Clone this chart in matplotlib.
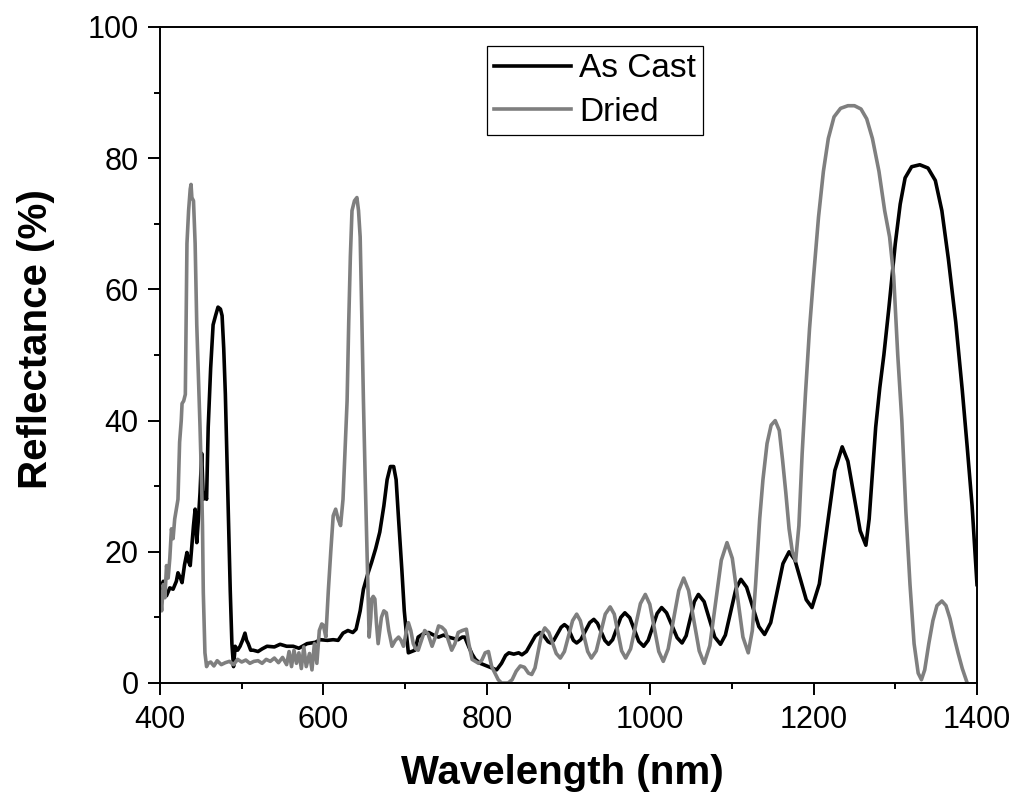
import matplotlib
matplotlib.use("Agg")
import matplotlib.pyplot as plt
from matplotlib.ticker import MultipleLocator

plt.rcParams['font.family'] = ['Liberation Sans', 'DejaVu Sans']

# ---- data ----
as_cast_wl = [400, 404, 408, 412, 416, 420, 422, 425, 427, 430, 433, 435, 437, 439, 441, 443, 445, 447,
              449, 451, 453, 455, 457, 459, 462, 465, 468, 471, 474, 476, 478, 480, 482, 484, 486, 488,
              490, 492, 495, 498, 501, 504, 506, 508, 511, 514, 520, 525, 531, 540, 547, 555, 563, 570,
              580, 590, 596, 605, 612, 618, 624, 630, 636, 640, 645, 649, 654, 659, 664, 669, 674, 678,
              682, 686, 689, 692, 696, 699, 702, 704, 708, 712, 716, 722, 729, 735, 741, 747, 753, 759,
              765, 770, 773, 778, 782, 786, 792, 802, 812, 818, 823, 827, 833, 839, 843,
              848.5, 854, 859.5, 865, 868, 871.5, 875, 878, 882, 886.5, 891, 895, 899, 902.5, 906, 910,
              915, 920.5, 926, 931, 935.5, 940, 944.5, 949, 954, 959, 964, 969, 975, 980.5, 986, 992,
              997.5, 1003, 1008.5, 1014, 1020, 1026.5, 1033, 1039, 1044, 1049, 1054, 1059, 1066, 1072.5,
              1079, 1086, 1092, 1098.5, 1105, 1111, 1118, 1125.5, 1133, 1140, 1147.5, 1155, 1162.5, 1170,
              1177, 1184, 1191, 1198, 1207, 1216.5, 1226, 1235, 1242, 1249.5, 1257, 1264, 1268, 1272,
              1276, 1281, 1286, 1292, 1300, 1306, 1312, 1320, 1330, 1340, 1349, 1357, 1365, 1374, 1382,
              1388, 1394, 1400]
as_cast_R = [14.3, 15.5, 13.3, 14.5, 14.3, 15.5, 16.8, 16.0, 15.3, 18.0, 19.9, 18.5, 17.9, 21.0, 24.0, 26.5,
             21.4, 25.0, 29.0, 35.0, 28.0, 29.0, 28.0, 39.0, 48.0, 54.6, 56.0, 57.3, 57.0, 56.0, 51.0, 44.0,
             34.0, 24.0, 14.0, 6.0, 2.5, 5.6, 5.0, 5.6, 6.5, 7.6, 6.5, 6.0, 5.0, 5.0, 4.8, 5.2, 5.6, 5.5,
             5.9, 5.6, 5.6, 5.3, 6.0, 6.2, 6.6, 6.5, 6.6, 6.5, 7.6, 8.0, 7.7, 8.2, 11.0, 14.3, 16.5, 18.4,
             20.5, 23.0, 27.0, 31.0, 33.0, 33.0, 31.0, 25.0, 17.3, 11.0, 7.0, 4.6, 4.8, 5.0, 7.0, 7.5, 7.7,
             7.3, 7.0, 7.3, 7.0, 6.8, 6.6, 7.0, 7.0, 5.5, 4.4, 3.6, 3.0, 2.5, 2.0, 3.0, 4.2, 4.6, 4.4, 4.6,
             4.3, 4.8, 6.0, 7.2, 7.7, 7.5, 6.9, 6.3, 6.1, 6.5, 7.5, 8.5, 8.9, 8.5, 7.5, 6.5, 6.1, 6.6, 7.9,
             9.2, 9.7, 9.1, 7.8, 6.5, 5.9, 6.6, 8.3, 10.0, 10.7, 9.95, 8.15, 6.35, 5.6, 6.5, 8.55, 10.6,
             11.5, 10.7, 8.8, 6.9, 6.1, 7.2, 9.8, 12.4, 13.5, 12.4, 9.7, 7.0, 5.9, 7.3, 10.85, 14.4, 15.8,
             14.6, 11.6, 8.6, 7.4, 9.2, 13.7, 18.2, 20.0, 18.8, 15.75, 12.7, 11.5, 15.1, 23.75, 32.4, 36.0,
             33.8, 28.5, 23.2, 21.0, 25.0, 32.0, 39.0, 45.0, 50.0, 57.0, 67.0, 73.0, 77.0, 78.7, 79.0, 78.5,
             76.6, 72.0, 64.6, 55.0, 44.6, 36.0, 27.0, 15.0]

dried_wl = [400, 402, 404, 406, 408, 410, 412, 414, 416, 418, 420, 422, 424, 426, 427, 429, 431, 432, 433,
            435, 437, 438, 439, 441, 443, 445, 447, 449, 451, 452, 453, 455, 457, 459, 462, 466, 470, 475,
            480, 485, 490, 495, 500, 505, 510, 515, 520, 525, 530, 535, 540, 545, 550, 555, 558, 561, 564,
            567, 570, 573, 576, 579, 583, 586, 589, 592, 595, 598, 600, 603, 606, 609, 612, 615, 618, 621,
            624, 626, 629, 631, 633, 635, 638, 641, 643, 645, 647, 649, 651, 653, 655, 656, 658, 659, 661,
            663, 665, 667, 669, 671, 674, 677, 680, 684, 688, 692, 695, 698, 701, 704, 707, 710, 713, 716,
            720, 724, 728, 733, 737, 741, 745, 749, 753, 757, 761, 765, 770, 775, 778, 782, 786, 790, 794,
            798, 802, 806, 810, 814, 818, 822, 826, 831, 836, 841, 846, 851, 855,
            859, 863, 867, 871, 876, 880.5, 885, 890, 895, 900, 905, 910, 914.5, 919, 923.5, 928, 934,
            939.5, 945, 951, 956, 960.5, 965, 970, 976, 982, 988, 994, 999.5, 1005, 1010.5, 1016, 1022,
            1028.5, 1035, 1041, 1047, 1053.5, 1060, 1066, 1073, 1080, 1087, 1094, 1100.5, 1107, 1113.5,
            1120, 1125, 1129, 1134, 1138, 1143, 1148, 1153, 1158, 1162, 1166, 1170, 1174, 1178, 1182, 1186,
            1190, 1195, 1200, 1206, 1212, 1218, 1225, 1233, 1242, 1250, 1258, 1265, 1272, 1280, 1287, 1293,
            1298, 1303, 1308, 1313, 1318, 1323, 1328, 1332, 1336, 1341, 1346, 1351, 1357, 1362, 1367, 1372,
            1377, 1382, 1388]
dried_R = [13.8, 11.0, 15.0, 13.0, 17.9, 16.0, 19.0, 23.5, 22.0, 25.0, 26.5, 28.0, 36.7, 40.0, 42.6, 43.0,
           44.0, 55.0, 67.0, 72.0, 75.3, 76.0, 74.0, 73.5, 67.0, 54.6, 47.0, 39.0, 30.0, 24.0, 13.8, 4.6,
           2.5, 3.0, 3.2, 2.6, 3.4, 2.8, 3.1, 3.3, 2.8, 3.6, 3.2, 3.5, 3.0, 3.3, 3.4, 3.0, 3.6, 3.3, 3.8,
           3.1, 3.9, 2.8, 4.8, 2.5, 5.0, 3.0, 4.6, 2.2, 5.5, 2.5, 4.5, 2.0, 6.0, 3.0, 8.0, 9.0, 8.8, 7.0,
           14.0, 20.0, 25.5, 26.5, 25.0, 24.0, 28.0, 34.0, 43.0, 55.0, 65.0, 72.0, 73.5, 74.0, 72.0, 68.0,
           56.0, 43.0, 32.0, 22.0, 12.0, 7.0, 10.0, 12.8, 13.2, 12.8, 9.0, 6.0, 8.0, 10.0, 11.0, 10.7, 8.0,
           5.6, 6.5, 7.0, 6.5, 5.6, 7.5, 9.2, 8.0, 6.0, 5.2, 5.0, 6.5, 8.0, 7.5, 5.6, 7.0, 8.7, 8.5, 8.0,
           6.5, 5.0, 6.0, 7.7, 8.0, 8.2, 6.0, 3.6, 3.3, 3.0, 3.5, 4.6, 4.8, 2.5, 1.5, 0.5, 0.0, 0.0, 0.0,
           0.5, 1.8, 2.6, 2.4, 1.5, 1.3,
           2.3, 4.85, 7.4, 8.4, 7.7, 6.1, 4.5, 3.8, 4.8, 7.15, 9.5, 10.5, 9.5, 7.15, 4.8, 3.8, 4.9, 7.7,
           10.5, 11.6, 10.5, 7.7, 4.9, 3.8, 5.2, 8.65, 12.1, 13.5, 12.0, 8.4, 4.8, 3.3, 5.2, 9.65, 14.1,
           16.0, 14.1, 9.5, 4.9, 3.0, 5.7, 12.2, 18.7, 21.4, 19.0, 13.0, 7.0, 4.6, 8.0, 15.0, 25.0, 31.0,
           36.5, 39.3, 40.0, 38.5, 34.0, 29.0, 23.5, 20.0, 18.6, 24.0, 35.0, 44.0, 54.0, 62.0, 71.0, 78.0,
           83.0, 86.3, 87.6, 88.0, 88.0, 87.5, 86.0, 83.0, 78.0, 72.0, 68.0, 62.0, 50.0, 40.0, 26.0, 15.0,
           6.0, 1.5, 0.5, 2.0, 6.0, 9.5, 11.8, 12.5, 11.8, 9.8, 7.0, 4.5, 2.2, 0.0]

series_labels = ["As Cast", "Dried"]
x_label = "Wavelength (nm)"
y_label = "Reflectance (%)"

# ---- figure ----
fig = plt.figure(figsize=(10.18, 8.02), dpi=100)
ax = fig.add_axes([160 / 1018, 1 - 683 / 802, 817 / 1018, 656 / 802])

ax.plot(as_cast_wl, as_cast_R, color="black", lw=2.6, label=series_labels[0], solid_joinstyle="round")
ax.plot(dried_wl, dried_R, color="#7f7f7f", lw=2.6, label=series_labels[1], solid_joinstyle="round")

ax.set_xlim(400, 1400)
ax.set_ylim(0, 100)
ax.xaxis.set_major_locator(MultipleLocator(200))
ax.xaxis.set_minor_locator(MultipleLocator(100))
ax.yaxis.set_major_locator(MultipleLocator(20))
ax.yaxis.set_minor_locator(MultipleLocator(10))

ax.tick_params(which="both", direction="out", top=False, right=False, width=1.4, labelsize=22)
ax.tick_params(which="major", length=8.5)
ax.tick_params(which="minor", length=4.5)
ax.tick_params(axis="x", which="major", pad=7)
ax.tick_params(axis="y", which="major", pad=7)
for s in ax.spines.values():
    s.set_linewidth(1.4)

ax.set_xlabel(x_label, fontsize=29, fontweight="bold")
ax.set_ylabel(y_label, fontsize=29, fontweight="bold")
ax.xaxis.set_label_coords(0.492, -0.108)
ax.yaxis.set_label_coords(-0.128, 0.525)

leg = ax.legend(loc="upper left", bbox_to_anchor=(0.400, 0.971), borderaxespad=0,
                fontsize=24, frameon=True, fancybox=False, framealpha=1,
                edgecolor="black", borderpad=0.22, handlelength=2.3, handletextpad=0.25,
                labelspacing=0.38)
leg.get_frame().set_linewidth(0.9)

fig.savefig("out.png", dpi=100)
